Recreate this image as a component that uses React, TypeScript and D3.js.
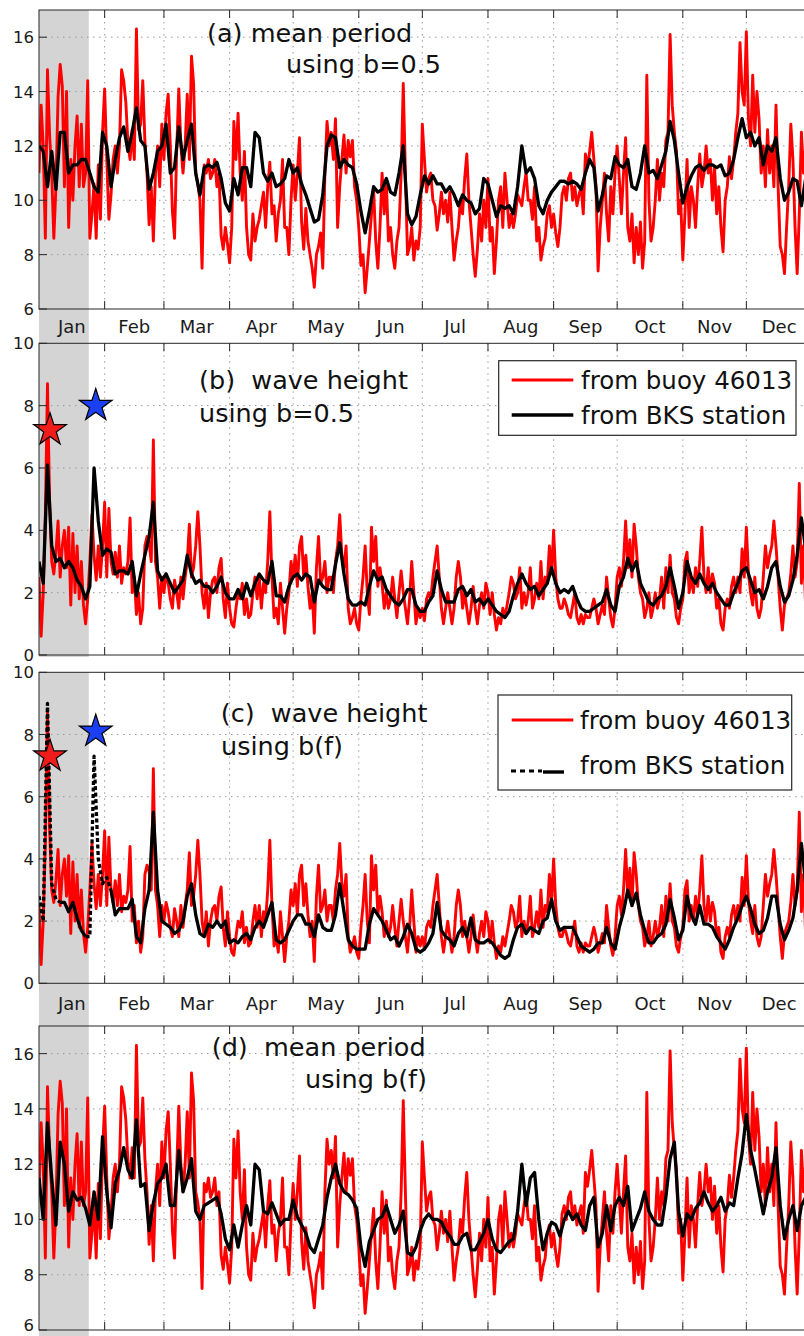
import React from "react";
import * as d3 from "d3";

const monthLabels = ["Jan", "Feb", "Mar", "Apr", "May", "Jun", "Jul", "Aug", "Sep", "Oct", "Nov", "Dec"];
const monthStarts = [0, 31, 59, 90, 120, 151, 181, 212, 243, 273, 304, 334, 365];
const periodTicks = [6, 8, 10, 12, 14, 16];
const heightTicks = [0, 2, 4, 6, 8, 10];
const shadedDays = [0, 23.5];
const stormDays = [5.2, 26.8];
const stormMarksB = [7.22, 8.0];
const stormMarksC = [7.3, 8.1];
const stormColors = ["#f01c1c", "#1b3ff2"];
const dashedRangesC = [[0, 9], [22, 33]];

// buoy 46013 mean period (s), daily, day 0 = Jan 1
const buoyPeriod = [
  11.0, 13.5, 12.0, 8.6, 14.8, 12.4, 11.0, 8.6, 10.5, 13.8,
  15.0, 14.2, 10.5, 14.0, 9.0, 11.5, 10.0, 12.0, 13.1, 10.5,
  12.8, 10.5, 11.0, 14.4, 8.6, 9.5, 10.6, 8.6, 11.3, 9.3,
  12.5, 14.1, 11.5, 9.3, 10.2, 11.5, 12.0, 11.0, 12.0, 14.8,
  14.4, 13.6, 12.1, 11.5, 12.6, 11.5, 16.3, 12.6, 12.8, 14.4,
  12.2, 11.0, 9.1, 10.5, 8.5, 11.0, 12.0, 10.5, 12.8, 11.5,
  13.2, 13.9, 12.0, 9.6, 8.6, 11.8, 14.1, 12.0, 11.0, 12.0,
  13.9, 11.5, 15.3, 14.3, 11.0, 10.6, 10.0, 7.5, 11.3, 11.0,
  11.5, 10.8, 11.0, 11.5, 10.5, 11.0, 8.7, 8.2, 9.0, 8.4,
  7.7, 9.0, 12.9, 11.5, 13.2, 11.0, 10.0, 11.8, 9.0, 8.0,
  7.8, 9.5, 8.5, 9.0, 9.3, 9.8, 10.3, 9.0, 10.5, 11.4,
  9.5, 9.8, 8.5, 9.5, 10.0, 11.5, 9.0, 9.0, 8.0, 10.0,
  11.3, 10.0, 11.0, 12.3, 9.2, 8.2, 9.7, 8.5, 8.0, 7.5,
  6.8, 8.0, 8.3, 8.8, 7.5, 11.0, 12.9, 12.0, 12.5, 11.5,
  13.0, 9.0, 10.5, 11.5, 12.4, 11.0, 12.2, 11.6, 12.2, 10.5,
  10.0, 9.0, 7.6, 8.0, 6.6, 7.5, 8.5, 9.5, 10.4, 8.5,
  7.5, 9.0, 11.0, 9.5, 10.7, 8.5, 9.0, 8.0, 7.5, 8.5,
  9.0, 11.0, 14.3, 11.0, 8.0, 8.3, 9.0, 7.8, 8.5, 8.2,
  9.0, 12.8, 11.5, 10.3, 10.8, 11.0, 10.0, 9.8, 8.9, 9.5,
  10.3, 9.5, 10.0, 9.2, 10.3, 9.0, 7.8, 8.5, 9.0, 10.0,
  9.5, 10.8, 11.7, 10.0, 9.0, 8.0, 7.2, 8.2, 9.5, 8.5,
  10.0, 9.0, 10.8, 8.5, 9.0, 7.3, 8.5, 10.0, 10.5, 9.0,
  11.0, 10.0, 9.0, 9.5, 9.0, 9.5, 10.2, 10.0, 9.8, 10.5,
  11.0, 10.0, 10.0, 9.3, 10.5, 8.5, 9.0, 7.8, 8.3, 8.6,
  9.5, 9.8, 9.0, 9.5, 8.8, 8.3, 9.0, 10.2, 10.5, 10.0,
  10.8, 11.0, 10.0, 10.5, 9.8, 10.2, 10.5, 9.5, 11.7, 11.2,
  11.8, 12.5, 11.5, 10.5, 7.4, 9.0, 10.0, 11.0, 9.5, 8.5,
  10.5, 9.5, 11.0, 12.0, 10.8, 9.5, 11.0, 12.3, 9.0, 8.5,
  9.5, 7.7, 9.0, 8.0, 9.2, 7.5, 8.5, 14.6, 10.0, 8.5,
  9.0, 10.0, 11.5, 10.0, 11.0, 10.5, 12.2, 12.5, 16.1, 13.5,
  12.5, 11.8, 9.5, 10.0, 7.8, 9.5, 11.5, 9.0, 10.5, 10.0,
  9.0, 10.5, 11.7, 10.5, 11.0, 12.0, 11.0, 11.5, 10.0, 11.2,
  9.5, 10.5, 9.0, 8.1, 10.0, 10.5, 11.6, 10.8, 11.5, 12.5,
  13.2, 15.8, 14.0, 13.5, 16.2, 13.0, 12.0, 14.6, 12.5, 14.0,
  13.0, 11.0, 12.0, 10.5, 12.6, 11.0, 12.0, 10.5, 13.5, 10.5,
  8.3, 8.0, 7.3, 9.0, 10.5, 12.8, 11.5, 9.0, 7.3, 9.5,
  12.5, 11.0, 12.0, 10.5, 11.5, 11.0,
];

// buoy 46013 wave height (m), daily
const buoyHeight = [
  2.5, 0.6, 2.0, 4.5, 8.7, 5.0, 3.0, 2.6, 3.3, 4.3,
  2.5, 3.5, 4.0, 2.8, 4.1, 1.6, 3.9, 2.0, 3.5, 1.8,
  3.0, 1.6, 1.0, 1.8, 3.0, 4.5, 3.2, 2.4, 3.5, 2.5,
  3.5, 4.9, 2.5, 4.7, 3.0, 2.6, 3.3, 2.5, 3.5, 2.3,
  2.8, 2.6, 3.0, 4.4, 2.0, 2.5, 1.3, 2.0, 1.0, 1.5,
  3.5, 3.8, 3.6, 3.0, 6.9, 3.0, 2.5, 1.5, 2.5, 2.0,
  2.6, 2.3, 1.8, 1.5, 2.4, 2.0, 1.5, 2.5, 1.8, 2.5,
  3.0, 4.2, 2.5, 2.8, 3.5, 4.6, 3.5, 2.0, 1.5, 2.3,
  1.2, 2.0, 2.4, 2.5, 2.0, 2.8, 3.1, 1.8, 1.2, 2.3,
  1.5, 1.0, 0.9, 1.5, 2.0, 1.8, 2.3, 1.3, 1.8, 1.2,
  1.3, 2.0, 2.5, 1.8, 2.5, 1.5, 2.3, 2.0, 3.0, 4.6,
  2.5, 1.2, 1.5, 1.0, 2.3, 1.5, 0.7, 1.5, 2.0, 3.0,
  2.5, 3.2, 2.2, 3.5, 3.8, 2.5, 3.2, 2.2, 1.5, 2.0,
  0.7, 2.8, 3.8, 2.3, 2.5, 3.0, 2.0, 2.5, 2.5, 2.0,
  3.0, 3.5, 4.5, 3.2, 2.8, 3.5, 1.5, 1.0, 1.2, 1.5,
  1.0, 0.8, 1.8, 2.5, 3.5, 2.0, 1.3, 4.1, 3.0, 3.8,
  2.2, 2.8, 2.3, 1.5, 2.0, 1.5, 1.8, 2.5, 1.8, 1.2,
  2.0, 2.7, 2.0, 1.5, 1.0, 1.8, 3.0, 2.0, 1.0, 1.5,
  1.2, 1.5, 1.1, 1.8, 2.0, 1.8, 2.5, 3.0, 3.5, 2.5,
  1.5, 1.0, 1.5, 2.0, 1.5, 1.0, 1.5, 2.5, 3.0, 2.5,
  1.5, 2.0, 1.5, 1.0, 1.5, 2.2, 1.5, 1.0, 1.6, 2.0,
  1.5, 2.3, 2.0, 1.3, 2.0, 1.3, 0.8, 1.2, 1.0, 1.5,
  1.2, 1.6, 2.0, 2.5, 2.3, 1.8, 2.0, 2.8, 1.5, 2.0,
  1.6, 2.0, 2.8, 1.5, 1.8, 2.3, 1.8, 3.0, 1.8, 2.5,
  2.3, 3.5, 2.6, 4.0, 2.5, 1.8, 1.5, 1.5, 1.8, 1.6,
  1.3, 1.2, 1.6, 2.0, 1.2, 1.0, 1.3, 1.0, 1.3, 1.2,
  1.2, 1.5, 1.8, 1.5, 1.0, 1.3, 1.6, 1.3, 2.5, 1.8,
  1.2, 0.9, 1.5, 2.5, 2.8, 2.2, 3.0, 4.3, 2.8, 3.7,
  2.5, 4.2, 3.5, 2.5, 2.0, 1.8, 1.2, 1.5, 2.0, 1.2,
  1.5, 2.0, 1.5, 1.8, 2.5, 1.5, 2.8, 2.0, 3.2, 2.0,
  1.8, 1.2, 1.0, 1.5, 1.8, 3.0, 3.3, 2.0, 2.5, 2.0,
  2.8, 2.2, 3.0, 4.1, 2.5, 2.0, 2.8, 2.0, 2.6, 2.3,
  1.5, 1.8, 1.0, 0.8, 1.5, 1.8, 1.5, 2.2, 2.5, 2.0,
  2.5, 2.0, 3.4, 2.5, 4.1, 2.6, 2.0, 1.6, 2.5, 1.5,
  1.2, 1.5, 2.5, 3.5, 2.8, 3.2, 3.5, 4.3, 3.5, 2.5,
  1.5, 0.8, 1.6, 1.8, 2.0, 2.6, 3.5, 2.5, 3.0, 5.5,
  2.3, 3.5, 1.5, 2.0, 2.5, 2.0,
];

// BKS station, every 2 days
const bksPeriodB05 = [
  12.0, 11.8, 10.5, 11.8, 10.4, 12.5, 12.5, 11.0, 11.3, 11.3,
  11.5, 11.5, 11.0, 10.5, 10.3, 12.5, 12.0, 10.5, 11.5, 12.3,
  12.7, 11.8, 12.5, 13.4, 12.2, 12.0, 10.4, 11.0, 11.8, 12.0,
  12.8, 11.0, 11.2, 12.7, 11.5, 12.2, 12.8, 11.0, 10.2, 11.2,
  11.3, 11.2, 11.4, 10.8, 9.9, 9.6, 10.8, 10.2, 11.2, 11.2,
  10.5, 12.5, 12.3, 11.0, 10.7, 11.0, 10.5, 10.6, 10.8, 11.5,
  11.0, 11.2, 10.6, 10.2, 9.7, 9.2, 9.3, 10.2, 12.0, 12.4,
  12.3, 11.2, 11.5, 11.3, 11.2, 10.6, 9.6, 8.8, 9.6, 10.5,
  10.3, 10.4, 10.8, 10.3, 10.2, 11.0, 12.0, 9.5, 9.1, 9.4,
  10.2, 10.9, 10.6, 10.9, 10.6, 10.6, 10.3, 10.5, 10.2, 9.8,
  10.2, 10.0, 9.9, 9.5, 9.7, 10.8, 10.6, 10.0, 9.4, 9.8,
  9.7, 9.8, 9.5, 10.5, 12.0, 11.0, 11.2, 10.8, 9.8, 9.5,
  10.0, 10.3, 10.5, 10.7, 10.7, 10.6, 10.7, 10.6, 10.4, 11.0,
  11.5, 11.2, 9.6, 10.2, 10.9, 10.8, 11.6, 11.3, 11.2, 11.5,
  10.5, 10.4, 11.0, 12.0, 11.0, 11.1, 10.8, 11.3, 11.8, 12.9,
  12.2, 11.0, 9.9, 10.5, 10.9, 11.2, 11.3, 11.1, 11.3, 11.3,
  11.2, 11.3, 10.9, 11.0, 11.5, 12.3, 13.0, 12.3, 12.5, 12.0,
  12.3, 11.3, 12.0, 11.8, 12.3, 10.8, 10.0, 10.3, 10.8, 10.7,
  9.8, 10.8, 11.0,
];

const bksHeightB05 = [
  3.0, 2.3, 6.1, 3.5, 3.0, 3.1, 2.8, 3.0, 2.8, 2.4,
  2.2, 1.8, 2.2, 6.0, 4.3, 3.2, 3.4, 3.3, 2.6, 2.7,
  2.7, 2.6, 3.0, 1.9, 2.6, 3.2, 3.8, 4.9, 2.7, 2.4,
  2.6, 2.3, 2.0, 2.2, 2.4, 3.2, 2.6, 2.3, 2.4, 2.2,
  2.2, 2.0, 2.2, 2.5, 2.0, 1.8, 1.8, 2.1, 1.8, 2.3,
  1.9, 2.3, 2.6, 2.4, 2.3, 3.0, 1.9, 1.9, 1.7, 2.2,
  2.5, 2.6, 2.4, 2.6, 2.5, 1.7, 2.4, 2.2, 2.1, 2.1,
  2.9, 3.6, 2.6, 1.8, 1.6, 1.6, 1.7, 1.6, 2.2, 2.7,
  2.4, 2.5, 2.1, 1.9, 1.7, 1.6, 1.8, 2.1, 2.1, 1.6,
  1.4, 1.4, 1.7, 1.9, 2.7, 2.1, 1.7, 1.7, 1.7, 2.1,
  2.2, 1.9, 2.1, 1.7, 1.8, 1.6, 1.8, 1.6, 1.4, 1.3,
  1.2, 1.4, 1.9, 2.3, 2.6, 2.3, 2.1, 2.2, 1.9, 2.1,
  2.3, 2.8, 2.3, 2.0, 2.1, 2.0, 2.2, 1.8, 1.5, 1.4,
  1.4, 1.5, 1.6, 1.7, 2.1, 1.6, 1.4, 2.2, 2.5, 3.1,
  2.7, 3.0, 2.3, 2.0, 1.7, 1.6, 1.8, 1.9, 2.2, 2.8,
  2.2, 1.5, 2.0, 3.0, 2.5, 2.3, 2.6, 2.3, 2.1, 2.3,
  2.0, 1.8, 1.6, 1.6, 2.0, 2.3, 2.7, 2.8, 2.4, 2.0,
  2.1, 1.8, 2.2, 2.8, 3.0, 2.2, 1.7, 1.9, 2.4, 3.2,
  4.4, 3.4, 3.0,
];

const bksHeightBf = [
  2.8, 2.0, 9.0, 3.2, 2.7, 2.6, 2.6, 2.3, 2.6, 2.1,
  1.7, 1.5, 1.5, 7.3, 4.0, 3.2, 3.4, 3.0, 2.2, 2.4,
  2.4, 2.4, 2.7, 1.5, 1.3, 2.4, 3.0, 5.5, 3.0, 2.0,
  1.9, 1.8, 1.6, 1.7, 2.0, 2.8, 3.2, 2.2, 1.6, 1.5,
  1.9, 1.8, 2.0, 1.8, 2.0, 1.3, 1.4, 1.3, 1.5, 1.6,
  1.4, 1.8, 2.0, 1.8, 2.2, 2.6, 1.4, 1.3, 1.4, 1.7,
  2.0, 2.2, 2.2, 1.9, 1.9, 1.5, 2.2, 1.8, 1.7, 1.7,
  2.2, 3.2, 2.3, 1.4, 1.2, 1.1, 1.1, 1.1, 1.9, 2.4,
  2.2, 2.0, 1.7, 1.4, 1.5, 1.2, 1.5, 1.9, 1.6, 1.1,
  1.0, 1.1, 1.3, 1.6, 2.6, 1.7, 1.5, 1.4, 1.2, 1.6,
  1.8, 1.5, 2.1, 1.4, 1.3, 1.3, 1.4, 1.3, 1.1, 0.9,
  0.8, 0.9, 1.4, 1.8, 1.9, 1.6, 1.8, 1.7, 1.6, 2.0,
  2.1, 2.7, 2.0, 1.7, 1.8, 1.8, 1.8, 1.5, 1.2, 1.1,
  1.0, 1.1, 1.3, 1.3, 1.8, 1.3, 1.1, 1.8, 2.3, 3.0,
  2.5, 2.9, 2.2, 1.7, 1.3, 1.3, 1.5, 1.6, 1.9, 2.7,
  2.1, 1.4, 1.7, 2.8, 2.2, 1.9, 2.5, 1.9, 1.9, 1.8,
  1.5, 1.3, 1.1, 1.4, 1.8, 2.1, 2.5, 2.8, 2.4, 1.9,
  1.6, 1.7, 2.1, 2.8, 2.8, 1.9, 1.4, 1.7, 2.1, 3.0,
  4.5, 3.2, 3.0,
];

const bksPeriodBf = [
  11.5, 10.0, 13.5, 11.5, 9.8, 12.8, 12.0, 10.3, 11.0, 10.7,
  10.8, 10.4, 9.8, 11.0, 10.0, 13.0, 11.0, 9.7, 11.3, 11.8,
  12.6, 11.8, 11.5, 13.6, 11.2, 11.3, 9.6, 10.6, 11.3, 11.5,
  12.0, 10.5, 10.5, 12.5, 11.0, 11.5, 12.2, 10.3, 10.0, 10.5,
  10.6, 10.7, 10.8, 10.2, 9.3, 8.9, 9.8, 9.0, 9.8, 10.5,
  9.8, 12.0, 11.8, 10.3, 10.2, 10.6, 10.2, 9.8, 10.0, 10.0,
  10.7, 10.1, 9.8, 9.5, 9.0, 8.8, 9.3, 9.8, 10.8, 11.5,
  12.0, 11.3, 11.0, 10.9, 10.7, 10.4, 9.0, 8.3, 9.2, 9.6,
  10.0, 10.1, 10.5, 10.0, 9.5, 9.8, 10.3, 8.8, 8.7, 9.0,
  9.6, 10.0, 10.2, 10.0, 10.0, 9.9, 9.6, 9.4, 9.1, 9.1,
  9.4, 9.5, 8.9, 8.9, 9.2, 9.5, 10.0, 9.3, 8.9, 8.8,
  9.0, 9.2, 9.3, 10.3, 12.0, 10.5, 11.5, 11.7, 10.0, 8.9,
  9.5, 9.9, 9.8, 9.4, 10.0, 10.3, 10.0, 10.2, 9.8, 9.6,
  10.5, 10.8, 9.0, 9.5, 10.5, 9.6, 10.5, 10.8, 10.5, 11.2,
  9.6, 10.0, 10.4, 11.0, 10.3, 10.0, 9.8, 9.8, 10.8, 12.2,
  12.8, 10.3, 9.4, 10.2, 10.0, 10.4, 10.6, 11.0, 10.6, 10.3,
  10.5, 10.8, 10.3, 10.6, 10.5, 11.5, 12.4, 13.8, 12.5, 11.8,
  11.0, 10.2, 11.0, 11.5, 12.6, 10.5, 9.3, 10.0, 10.5, 9.6,
  10.5, 10.8, 11.0,
];

const W = 804;
const H = 1336;
const X0 = 39;
const X1 = 812;
const FONT = "'DejaVu Sans', 'Liberation Sans', sans-serif";
const AXIS = "#262626";

type Pt = { d: number; v: number };

function splitRuns(pts: Pt[], isDashed: (d: number) => boolean) {
  const runs: { dash: boolean; pts: Pt[] }[] = [];
  let cur: { dash: boolean; pts: Pt[] } | null = null;
  for (let i = 0; i < pts.length - 1; i++) {
    const mid = (pts[i].d + pts[i + 1].d) / 2;
    const dash = isDashed(mid);
    if (!cur || cur.dash !== dash) {
      cur = { dash, pts: [pts[i]] };
      runs.push(cur);
    }
    cur.pts.push(pts[i + 1]);
  }
  return runs;
}

export default function App() {
  const x = d3.scaleLinear().domain([0, 365]).range([X0, X1]);

  const panels = [
    {
      id: "a", top: 10, bottom: 309, domain: [6, 17], ticks: periodTicks,
      red: buoyPeriod, black: bksPeriodB05, monthY: 333,
      titles: [{ t: "(a) mean period", x: 207, y: 42 }, { t: "using b=0.5", x: 286, y: 73 }],
      legend: null as any, stars: null as number[] | null, dashed: false,
    },
    {
      id: "b", top: 343.3, bottom: 655, domain: [0, 10], ticks: heightTicks,
      red: buoyHeight, black: bksHeightB05, monthY: null as number | null,
      titles: [{ t: "(b)  wave height", x: 199, y: 389 }, { t: "using b=0.5", x: 199, y: 421.5 }],
      legend: { x: 498.7, y: 360.7, w: 297.3, h: 74.6, r1: 380, r2: 415, t2: 415, dashed: false, tx: 581 },
      stars: stormMarksB, dashed: false,
    },
    {
      id: "c", top: 672.3, bottom: 983.3, domain: [0, 10], ticks: heightTicks,
      red: buoyHeight, black: bksHeightBf, monthY: 1010,
      titles: [{ t: "(c)  wave height", x: 220.7, y: 721.5 }, { t: "using b(f)", x: 221, y: 755 }],
      legend: { x: 498, y: 695, w: 293.7, h: 95, r1: 720, r2: 771, t2: 765, dashed: true, tx: 580 },
      stars: stormMarksC, dashed: true,
    },
    {
      id: "d", top: 1026, bottom: 1330, domain: [6, 17], ticks: periodTicks,
      red: buoyPeriod, black: bksPeriodBf, monthY: null as number | null,
      titles: [{ t: "(d)  mean period", x: 211.7, y: 1056 }, { t: "using b(f)", x: 305, y: 1088 }],
      legend: null as any, stars: null as number[] | null, dashed: false,
    },
  ];

  const starPath = d3.symbol().type(d3.symbolStar).size(330)() as string;
  const isDashedC = (d: number) => dashedRangesC.some(([a, b]) => d >= a && d <= b);

  return (
    <svg width={W} height={H} style={{ position: "absolute", left: 0, top: 0, background: "#fff" }}
      fontFamily={FONT}>
      <defs>
        {panels.map((p) => (
          <clipPath id={`clip-${p.id}`} key={p.id}>
            <rect x={X0} y={p.top} width={X1 - X0} height={p.bottom - p.top} />
          </clipPath>
        ))}
      </defs>
      <rect x={0} y={0} width={W} height={H} fill="#fff" />
      {/* shaded period */}
      <rect x={x(shadedDays[0])} y={10} width={x(shadedDays[1]) - x(shadedDays[0])} height={657 - 10} fill="#d4d4d4" />
      <rect x={x(shadedDays[0])} y={672.3} width={x(shadedDays[1]) - x(shadedDays[0])} height={H - 672.3} fill="#d4d4d4" />

      {panels.map((p) => {
        const y = d3.scaleLinear().domain(p.domain).range([p.bottom, p.top]);
        const redPts: Pt[] = p.red.map((v, i) => ({ d: i, v }));
        const blackPts: Pt[] = p.black.map((v, i) => ({ d: i * 2, v }));
        const line = d3.line<Pt>().x((q) => x(q.d)).y((q) => y(q.v));
        const runs = p.dashed ? splitRuns(blackPts, isDashedC) : [{ dash: false, pts: blackPts }];
        return (
          <g key={p.id}>
            {/* grid */}
            {p.ticks.filter((t) => t > p.domain[0] && t < p.domain[1]).map((t) => (
              <line key={`hg${t}`} x1={X0} x2={X1} y1={y(t)} y2={y(t)} stroke="#9a9a9a" strokeWidth={1} strokeDasharray="1.5,4.5" />
            ))}
            {monthStarts.slice(1, 12).map((m) => (
              <line key={`vg${m}`} x1={x(m)} x2={x(m)} y1={p.top} y2={p.bottom} stroke="#9a9a9a" strokeWidth={1} strokeDasharray="1.5,4.5" />
            ))}
            {/* data */}
            <g clipPath={`url(#clip-${p.id})`}>
              <path d={line(redPts) as string} fill="none" stroke="#ff0000" strokeWidth={2.9} strokeLinejoin="round" />
              {runs.map((r, i) => (
                <path key={i} d={line(r.pts) as string} fill="none" stroke="#000" strokeWidth={3.3}
                  strokeLinejoin="round" strokeDasharray={r.dash ? "4,2.5" : undefined} />
              ))}
            </g>
            {/* stars */}
            {p.stars && p.stars.map((v, i) => (
              <path key={`s${i}`} d={starPath} transform={`translate(${x(stormDays[i])},${y(v)})`}
                fill={stormColors[i]} stroke="#000" strokeWidth={1.2} />
            ))}
            {/* axes frame */}
            <rect x={X0} y={p.top} width={X1 - X0} height={p.bottom - p.top} fill="none" stroke={AXIS} strokeWidth={1} />
            {monthStarts.slice(1, 12).map((m) => (
              <g key={`t${m}`}>
                <line x1={x(m)} x2={x(m)} y1={p.bottom} y2={p.bottom - 8} stroke={AXIS} />
                <line x1={x(m)} x2={x(m)} y1={p.top} y2={p.top + 8} stroke={AXIS} />
              </g>
            ))}
            {p.ticks.map((t) => (
              <g key={`yt${t}`}>
                <line x1={X0} x2={X0 + 8} y1={y(t)} y2={y(t)} stroke={AXIS} />
                <text x={34} y={Math.min(y(t) + 6, H - 5)} textAnchor="end" fontSize={16.5} fill="#1a1a1a">{t}</text>
              </g>
            ))}
            {p.monthY !== null && monthLabels.map((mname, i) => (
              <text key={mname} x={x((monthStarts[i] + monthStarts[i + 1]) / 2)} y={p.monthY as number}
                textAnchor="middle" fontSize={18} fill="#1a1a1a">{mname}</text>
            ))}
            {/* titles */}
            {p.titles.map((tt, i) => (
              <text key={`ti${i}`} x={tt.x} y={tt.y} fontSize={25.5} fill="#111" style={{ whiteSpace: "pre" }}>{tt.t}</text>
            ))}
            {/* legend */}
            {p.legend && (
              <g>
                <rect x={p.legend.x} y={p.legend.y} width={p.legend.w} height={p.legend.h} fill="#fff" stroke={AXIS} strokeWidth={1.2} />
                <line x1={511.7} x2={573.3} y1={p.legend.r1} y2={p.legend.r1} stroke="#ff0000" strokeWidth={3} />
                {p.legend.dashed ? (
                  <g>
                    <line x1={511} x2={542} y1={p.legend.r2} y2={p.legend.r2} stroke="#000" strokeWidth={3} strokeDasharray="5,4" />
                    <line x1={543} x2={564} y1={p.legend.r2 + 1} y2={p.legend.r2 + 1} stroke="#000" strokeWidth={3.4} />
                  </g>
                ) : (
                  <line x1={511.7} x2={573.3} y1={p.legend.r2} y2={p.legend.r2} stroke="#000" strokeWidth={3.4} />
                )}
                <text x={p.legend.tx} y={p.legend.r1 + 9} fontSize={24.5} fill="#111">from buoy 46013</text>
                <text x={p.legend.tx} y={p.legend.t2 + 9} fontSize={24.5} fill="#111">from BKS station</text>
              </g>
            )}
          </g>
        );
      })}
    </svg>
  );
}
